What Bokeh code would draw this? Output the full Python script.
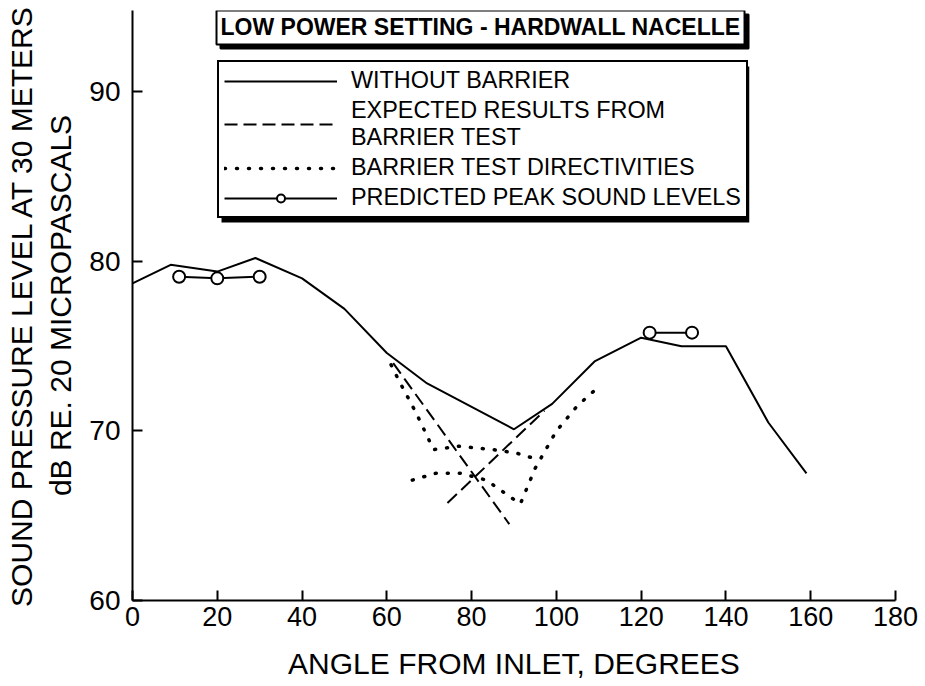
from bokeh.plotting import figure
from bokeh.models import Legend, LegendItem, Label, BoxAnnotation, FixedTicker
from bokeh.embed import file_html
from bokeh.resources import INLINE

# ---- data ----
angle_nobarrier = [0, 9, 20, 29, 40, 50, 60, 69.5, 90, 99, 109, 120, 129.5, 140, 150, 159]
level_nobarrier = [78.7, 79.8, 79.4, 80.2, 79.0, 77.2, 74.6, 72.8, 70.1, 71.6, 74.1, 75.5, 75.0, 75.0, 70.5, 67.5]

expected_angles = [[61.5, 88.9], [74.3, 97.2]]
expected_levels = [[74.0, 64.5], [65.75, 71.2]]

directivity_angles = [[61, 63, 66, 68, 71, 77, 85, 90.5, 94.5],
                      [66, 71.5, 77.5, 83.5, 88, 91.5, 95, 100, 105, 109.5]]
directivity_levels = [[73.9, 72.9, 71.5, 70.5, 68.9, 69.1, 68.9, 68.7, 68.4],
                      [67.1, 67.5, 67.5, 67.1, 66.3, 65.7, 67.8, 70.0, 71.5, 72.5]]

peak_angles = [[11, 20, 30], [122, 132]]
peak_levels = [[79.1, 79.0, 79.1], [75.8, 75.8]]

x_ticks = [0, 20, 40, 60, 80, 100, 120, 140, 160, 180]
y_ticks = [60, 70, 80, 90]

title_text = "LOW POWER SETTING - HARDWALL NACELLE"
x_label = "ANGLE FROM INLET, DEGREES"
y_label = "SOUND PRESSURE LEVEL AT 30 METERS\ndB RE. 20 MICROPASCALS"
legend_labels = ["WITHOUT BARRIER", "EXPECTED RESULTS FROM\nBARRIER TEST",
                 "BARRIER TEST DIRECTIVITIES", "PREDICTED PEAK SOUND LEVELS"]

FONT = "Liberation Sans"

p = figure(width=925, height=686, x_range=(0, 180), y_range=(60, 94.8),
           output_backend="svg", toolbar_location=None,
           min_border_left=132, min_border_right=30, min_border_top=10, min_border_bottom=86)
p.outline_line_color = None
p.xgrid.visible = False
p.ygrid.visible = False
p.background_fill_color = "white"
p.border_fill_color = "white"

for ax in (p.xaxis[0], p.yaxis[0]):
    ax.axis_line_width = 2
    ax.axis_line_color = "black"
    ax.major_tick_line_width = 2
    ax.major_tick_line_color = "black"
    ax.major_tick_in = 10
    ax.major_tick_out = 0
    ax.minor_tick_line_color = None
    ax.major_label_text_color = "black"
    ax.major_label_text_font = FONT
    ax.axis_label_text_color = "black"
    ax.axis_label_text_font = FONT
    ax.axis_label_text_font_style = "normal"

p.xaxis.ticker = FixedTicker(ticks=x_ticks)
p.yaxis.ticker = FixedTicker(ticks=y_ticks)
p.xaxis.major_label_text_font_size = "27px"
p.yaxis.major_label_text_font_size = "28px"
p.xaxis.major_label_standoff = 6
p.yaxis.major_label_standoff = 12
p.xaxis.axis_label = x_label
p.yaxis.axis_label = y_label
p.xaxis.axis_label_text_font_size = "30px"
p.yaxis.axis_label_text_font_size = "30px"
p.xaxis.axis_label_standoff = 18
p.yaxis.axis_label_standoff = 9

# ---- series ----
r_solid = p.line(angle_nobarrier, level_nobarrier, line_color="black", line_width=2)
r_dash = p.multi_line(expected_angles, expected_levels, line_color="black", line_width=2,
                      line_dash="13 6")
r_dot = p.multi_line(directivity_angles, directivity_levels, line_color="black", line_width=3.5,
                     line_dash="1 11", line_cap="round")
r_peak_line = p.multi_line(peak_angles, peak_levels, line_color="black", line_width=2)
flat_x = [a for seg in peak_angles for a in seg]
flat_y = [v for seg in peak_levels for v in seg]
r_peak_pts = p.scatter(flat_x, flat_y, marker="circle", size=12, fill_color="white",
                       line_color="black", line_width=2)

# ---- title box with shadow ----
title_kw = dict(x=82.1, y=93.8, x_units="data", y_units="data", text=title_text,
                text_font=FONT, text_font_style="bold", text_font_size="23px",
                text_align="center", text_baseline="middle", padding=4,
                border_line_width=2, border_line_color="black")
p.add_layout(Label(x_offset=4, y_offset=-4, text_color="black",
                   background_fill_color="black", **title_kw))
p.add_layout(Label(text_color="black", background_fill_color="white", **title_kw))

# ---- legend shadow + legend ----
shadow = BoxAnnotation(left=21.0, right=145.5, top=91.5, bottom=82.3,
                       fill_color="black", fill_alpha=1, line_color=None)
p.add_layout(shadow)

legend = Legend(items=[
    LegendItem(label=legend_labels[0], renderers=[r_solid]),
    LegendItem(label=legend_labels[1], renderers=[r_dash]),
    LegendItem(label=legend_labels[2], renderers=[r_dot]),
    LegendItem(label=legend_labels[3], renderers=[r_peak_line, r_peak_pts]),
], location=(85, 382))
legend.border_line_color = "black"
legend.border_line_width = 2
legend.border_line_alpha = 1
legend.background_fill_color = "white"
legend.background_fill_alpha = 1
legend.label_text_font = FONT
legend.label_text_font_size = "23.4px"
legend.label_text_color = "black"
legend.glyph_width = 113
legend.glyph_height = 20
legend.label_standoff = 14
legend.padding = 5
legend.spacing = 3
legend.margin = 0
p.add_layout(legend, "center")

open("out.html", "w").write(file_html(p, INLINE))
